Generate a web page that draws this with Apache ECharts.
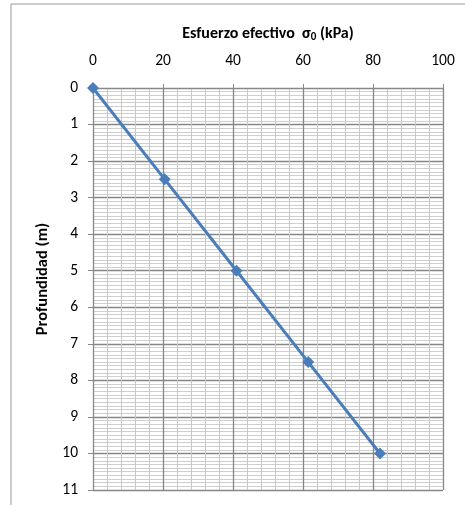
<!DOCTYPE html>
<html>
<head>
<meta charset="utf-8">
<script src="https://cdn.jsdelivr.net/npm/echarts@6/dist/echarts.min.js"></script>
<style>
html,body{margin:0;padding:0;background:#fff;}
#c{width:465px;height:505px;}
</style>
</head>
<body>
<div id="c"></div>
<script>
var stress = [0, 20.5, 41, 61.5, 82];
var depth = [0, 2.5, 5, 7.5, 10];
var xTitle = '{t|Esfuerzo efectivo  σ}{s|0}{t| (kPa)}';
var yTitle = 'Profundidad (m)';

var pts = stress.map(function (s, i) { return [s, depth[i]]; });
var font = 'Carlito, "Open Sans", "Liberation Sans", sans-serif';

var chart = echarts.init(document.getElementById('c'));
chart.setOption({
  animation: false,
  backgroundColor: '#fff',
  grid: { left: 93, right: 22, top: 88, bottom: 15, containLabel: false },
  graphic: [
    { type: 'line', shape: { x1: 11, y1: 4, x2: 465, y2: 4 }, style: { stroke: '#999', lineWidth: 1 } },
    { type: 'line', shape: { x1: 11, y1: 4, x2: 11, y2: 505 }, style: { stroke: '#999', lineWidth: 1 } }
  ],
  xAxis: {
    type: 'value', position: 'top', min: 0, max: 100, interval: 20,
    name: xTitle, nameLocation: 'middle', nameGap: 45,
    nameTextStyle: {
      rich: {
        t: { fontFamily: font, fontWeight: 'bold', fontSize: 16, color: '#000' },
        s: { fontFamily: font, fontWeight: 'bold', fontSize: 11, color: '#000', padding: [8, 0, 0, 0] }
      }
    },
    axisLine: { show: true, lineStyle: { color: '#888', width: 1 } },
    axisTick: { show: true, length: 4, lineStyle: { color: '#888' } },
    axisLabel: { fontFamily: font, fontSize: 15.5, color: '#000', margin: 19 },
    splitLine: { show: true, lineStyle: { color: '#868686', width: 1.3 } },
    minorTick: { show: false, splitNumber: 5 },
    minorSplitLine: { show: true, lineStyle: { color: '#c8c8c8', width: 1 } }
  },
  yAxis: {
    type: 'value', inverse: true, min: 0, max: 11, interval: 1,
    name: yTitle, nameLocation: 'middle', nameGap: 41, nameRotate: 90,
    nameTextStyle: { fontFamily: font, fontWeight: 'bold', fontSize: 16.5, color: '#000', padding: [0, 0, 0, 20] },
    axisLine: { show: true, lineStyle: { color: '#888', width: 1 } },
    axisTick: { show: true, length: 5, lineStyle: { color: '#888' } },
    axisLabel: { fontFamily: font, fontSize: 15.5, color: '#000', margin: 15 },
    splitLine: { show: true, lineStyle: { color: '#868686', width: 1.3 } },
    minorTick: { show: false, splitNumber: 10 },
    minorSplitLine: { show: true, lineStyle: { color: '#cfcfcf', width: 1 } }
  },
  series: [{
    type: 'line', data: pts,
    symbol: 'diamond', symbolSize: 12,
    lineStyle: { color: '#4a7ebb', width: 3 },
    itemStyle: { color: '#4a7ebb' }
  }]
});
</script>
</body>
</html>
